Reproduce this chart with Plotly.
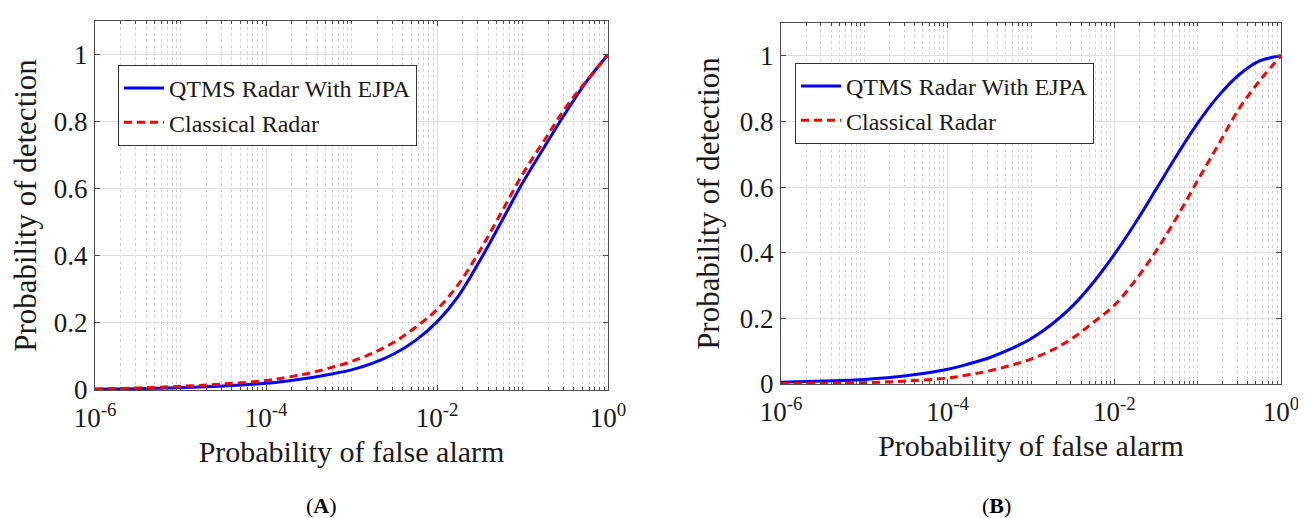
import plotly.graph_objects as go

# ---------------- data ----------------
# exponent of the probability of false alarm (Pfa = 10**exponent)
pfa_exp = [-6, -5.5, -5, -4.5, -4, -3.75, -3.5, -3.25, -3, -2.75, -2.5, -2.25, -2, -1.75, -1.5, -1.25, -1,
           -0.75, -0.5, -0.25, 0]

# panel (A)
pd_qtms_A = [0.002, 0.004, 0.007, 0.012, 0.02, 0.027, 0.036, 0.047, 0.06, 0.08, 0.108, 0.148, 0.203, 0.28,
             0.385, 0.5, 0.617, 0.722, 0.825, 0.92, 1.0]
pd_classical_A = [0.003, 0.006, 0.011, 0.018, 0.028, 0.038, 0.05, 0.066, 0.085, 0.11, 0.143, 0.187, 0.24, 0.315,
                  0.415, 0.528, 0.643, 0.742, 0.84, 0.922, 1.0]

# panel (B)
pd_qtms_B = [0.005, 0.009, 0.014, 0.025, 0.045, 0.061, 0.08, 0.106, 0.138, 0.182, 0.238, 0.31, 0.395, 0.49,
             0.593, 0.697, 0.795, 0.878, 0.943, 0.985, 1.0]
pd_classical_B = [0.001, 0.002, 0.004, 0.009, 0.018, 0.028, 0.04, 0.056, 0.076, 0.103, 0.14, 0.188, 0.24, 0.315,
                  0.405, 0.508, 0.62, 0.73, 0.84, 0.926, 1.0]

series_names = ["QTMS Radar With EJPA", "Classical Radar"]
x_tick_vals = [1e-6, 1e-4, 1e-2, 1]
x_tick_text = ["10<sup>-6</sup>", "10<sup>-4</sup>", "10<sup>-2</sup>", "10<sup>0</sup>"]
y_tick_vals = [0, 0.2, 0.4, 0.6, 0.8, 1]
y_tick_text = ["0", "0.2", "0.4", "0.6", "0.8", "1"]
x_title = "Probability of false alarm"
y_title = "Probability of detection"
panel_labels = ["(<b>A</b>)", "(<b>B</b>)"]

# ---------------- figure ----------------
FONT = "Liberation Serif"
TXT = "#1a1a1a"
AXC = "#4d4d4d"
minor_vals = [m * 10 ** k for k in range(-6, 0) for m in range(1, 10) if not (m == 1 and k % 2 == 0)]

fig = go.Figure()


def add_panel(xexp, y1, y2, xa, ya, legend):
    x = [10 ** e for e in xexp]
    fig.add_trace(go.Scatter(x=x, y=y1, mode="lines", name=series_names[0], xaxis=xa, yaxis=ya,
                             legend=legend,
                             line=dict(color="#0000ff", width=3, shape="spline", smoothing=1.0)))
    fig.add_trace(go.Scatter(x=x, y=y2, mode="lines", name=series_names[1], xaxis=xa, yaxis=ya,
                             legend=legend,
                             line=dict(color="#ff0000", width=3, dash="8px,5px", shape="spline", smoothing=1.0)))


add_panel(pfa_exp, pd_qtms_A, pd_classical_A, "x", "y", "legend")
add_panel(pfa_exp, pd_qtms_B, pd_classical_B, "x2", "y2", "legend2")

W, H = 1306, 518
# pixel boxes of the two plot areas: (left, right, top, bottom)
boxes = [(87, 600, 13, 382), (773, 1273, 15, 376)]


def xaxis_cfg(box, anchor):
    l, r, t, b = box
    return dict(type="log", domain=[l / W, r / W], range=[-6, 0], anchor=anchor,
                tickmode="array", tickvals=x_tick_vals, ticktext=x_tick_text,
                ticks="inside", ticklen=5, tickcolor=AXC, showline=True, linecolor=AXC, linewidth=1,
                mirror="allticks", showgrid=True, gridcolor="#e0e0e0", gridwidth=1,
                minor=dict(tickmode="array", tickvals=minor_vals, ticks="inside", ticklen=3,
                           tickcolor=AXC, showgrid=True, gridcolor="#d6d6d6", griddash="dot", gridwidth=1),
                tickfont=dict(family=FONT, size=27, color=TXT), ticklabelstandoff=4,
                title=dict(text=x_title, font=dict(family=FONT, size=30, color=TXT), standoff=8),
                automargin=False, zeroline=False, fixedrange=True)


def yaxis_cfg(box, anchor, standoff):
    l, r, t, b = box
    return dict(domain=[1 - b / H, 1 - t / H], range=[0, 1.1], anchor=anchor,
                tickmode="array", tickvals=y_tick_vals, ticktext=y_tick_text,
                ticks="inside", ticklen=5, tickcolor=AXC, showline=True, linecolor=AXC, linewidth=1,
                mirror="allticks", showgrid=True, gridcolor="#e0e0e0", gridwidth=1,
                tickfont=dict(family=FONT, size=27, color=TXT), ticklabelstandoff=1,
                title=dict(text=y_title, font=dict(family=FONT, size=31, color=TXT), standoff=standoff),
                automargin=False, zeroline=False, fixedrange=True)


legend_common = dict(bgcolor="white", bordercolor="#333333", borderwidth=1,
                     font=dict(family=FONT, size=24, color=TXT),
                     xanchor="left", yanchor="top", itemwidth=40, tracegroupgap=0)

fig.update_layout(
    width=W, height=H, margin=dict(l=0, r=0, t=0, b=0),
    paper_bgcolor="white", plot_bgcolor="white",
    font=dict(family=FONT, color=TXT),
    xaxis=xaxis_cfg(boxes[0], "y"), yaxis=yaxis_cfg(boxes[0], "x", 20),
    xaxis2=xaxis_cfg(boxes[1], "y2"), yaxis2=yaxis_cfg(boxes[1], "x2", 10),
    legend=dict(x=110 / W, y=1 - 57 / H, **legend_common),
    legend2=dict(x=787 / W, y=1 - 55 / H, **legend_common),
    showlegend=True,
)

for lab, cx in zip(panel_labels, [313, 989]):
    fig.add_annotation(text=lab, x=cx / W, y=1 - 497 / H, xref="paper", yref="paper",
                       showarrow=False, xanchor="center", yanchor="middle",
                       font=dict(family=FONT, size=22, color="#000000"))

fig.write_html("out.html")
